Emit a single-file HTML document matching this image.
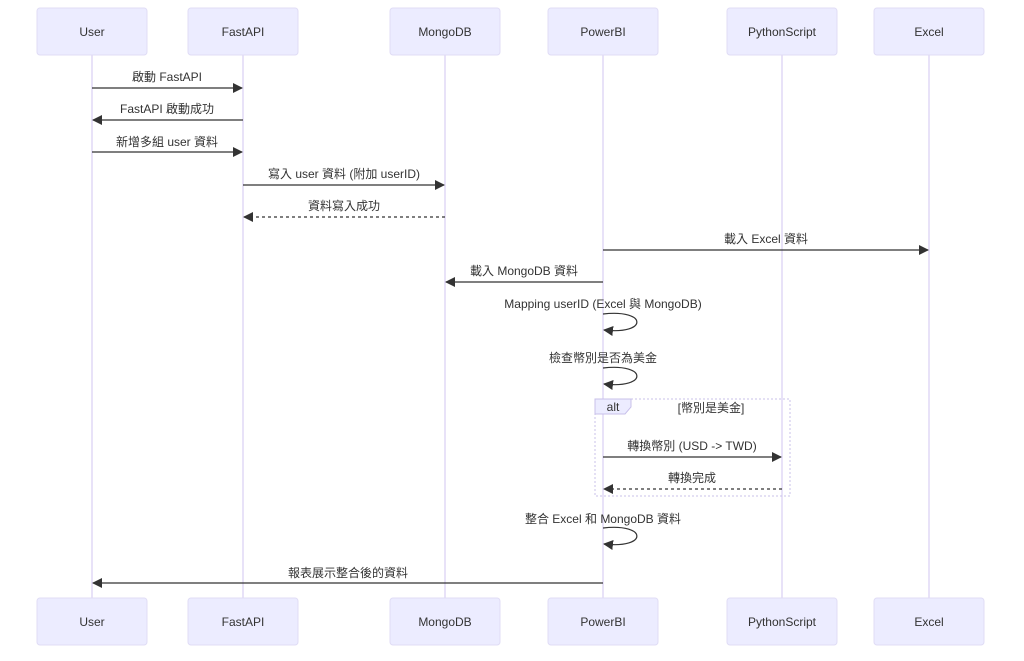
<!DOCTYPE html>
<html><head><meta charset="utf-8"><style>
html,body{margin:0;padding:0;background:#fff;}
svg text{font-family:"Liberation Sans","Noto Sans CJK TC",sans-serif;font-size:12px;fill:#333;}
</style></head><body>
<svg width="1024" height="656" viewBox="0 0 1024 656" xmlns="http://www.w3.org/2000/svg">
<defs>
<marker id="ah" markerWidth="10" markerHeight="10" refX="9" refY="5" orient="auto" markerUnits="userSpaceOnUse">
<path d="M0,0 L10,5 L0,10 z" fill="#333"/></marker>
</defs>
<g stroke="#e0d8f5" stroke-width="1.5">
<line x1="92" y1="55" x2="92" y2="598"/><line x1="243" y1="55" x2="243" y2="598"/>
<line x1="445" y1="55" x2="445" y2="598"/><line x1="603" y1="55" x2="603" y2="598"/>
<line x1="782" y1="55" x2="782" y2="598"/><line x1="929" y1="55" x2="929" y2="598"/>
</g>
<g fill="#ececff" stroke="#e0dcf5" stroke-width="1">
<rect x="37" y="8" width="110" height="47" rx="3"/><rect x="188" y="8" width="110" height="47" rx="3"/>
<rect x="390" y="8" width="110" height="47" rx="3"/><rect x="548" y="8" width="110" height="47" rx="3"/>
<rect x="727" y="8" width="110" height="47" rx="3"/><rect x="874" y="8" width="110" height="47" rx="3"/>
<rect x="37" y="598" width="110" height="47" rx="3"/><rect x="188" y="598" width="110" height="47" rx="3"/>
<rect x="390" y="598" width="110" height="47" rx="3"/><rect x="548" y="598" width="110" height="47" rx="3"/>
<rect x="727" y="598" width="110" height="47" rx="3"/><rect x="874" y="598" width="110" height="47" rx="3"/>
</g>
<g text-anchor="middle">
<text x="92" y="36">User</text><text x="243" y="36">FastAPI</text><text x="445" y="36">MongoDB</text>
<text x="603" y="36">PowerBI</text><text x="782" y="36">PythonScript</text><text x="929" y="36">Excel</text>
<text x="92" y="626">User</text><text x="243" y="626">FastAPI</text><text x="445" y="626">MongoDB</text>
<text x="603" y="626">PowerBI</text><text x="782" y="626">PythonScript</text><text x="929" y="626">Excel</text>
</g>
<rect x="595" y="399" width="195" height="97" fill="none" stroke="#c8c0ea" stroke-dasharray="2,2"/>
<path d="M595,399 L631,399 L631,407 L625,414 L595,414 z" fill="#ececff" stroke="#c8c0ea"/>
<text x="613" y="411" text-anchor="middle">alt</text>
<text x="711" y="412" text-anchor="middle">[幣別是美金]</text>
<g stroke="#333" stroke-width="1.2" fill="none">
<line x1="92" y1="88" x2="242" y2="88" marker-end="url(#ah)"/>
<line x1="243" y1="120" x2="93" y2="120" marker-end="url(#ah)"/>
<line x1="92" y1="152" x2="242" y2="152" marker-end="url(#ah)"/>
<line x1="243" y1="185" x2="444" y2="185" marker-end="url(#ah)"/>
<line x1="445" y1="217" x2="244" y2="217" marker-end="url(#ah)" stroke-dasharray="3,3"/>
<line x1="603" y1="250" x2="928" y2="250" marker-end="url(#ah)"/>
<line x1="603" y1="282" x2="446" y2="282" marker-end="url(#ah)"/>
<path d="M603,314 C648,309 648,335 604,330" marker-end="url(#ah)"/>
<path d="M603,368 C648,363 648,389 604,384" marker-end="url(#ah)"/>
<line x1="603" y1="457" x2="781" y2="457" marker-end="url(#ah)"/>
<line x1="782" y1="489" x2="604" y2="489" marker-end="url(#ah)" stroke-dasharray="3,3"/>
<path d="M603,528 C648,523 648,549 604,544" marker-end="url(#ah)"/>
<line x1="603" y1="583" x2="93" y2="583" marker-end="url(#ah)"/>
</g>
<g text-anchor="middle">
<text x="167" y="81">啟動 FastAPI</text>
<text x="167" y="113">FastAPI 啟動成功</text>
<text x="167" y="146">新增多組 user 資料</text>
<text x="344" y="178">寫入 user 資料 (附加 userID)</text>
<text x="344" y="210">資料寫入成功</text>
<text x="766" y="243">載入 Excel 資料</text>
<text x="524" y="275">載入 MongoDB 資料</text>
<text x="603" y="308">Mapping userID (Excel 與 MongoDB)</text>
<text x="603" y="362">檢查幣別是否為美金</text>
<text x="692" y="450">轉換幣別 (USD -&gt; TWD)</text>
<text x="692" y="482">轉換完成</text>
<text x="603" y="523">整合 Excel 和 MongoDB 資料</text>
<text x="348" y="577">報表展示整合後的資料</text>
</g>
</svg>
</body></html>
